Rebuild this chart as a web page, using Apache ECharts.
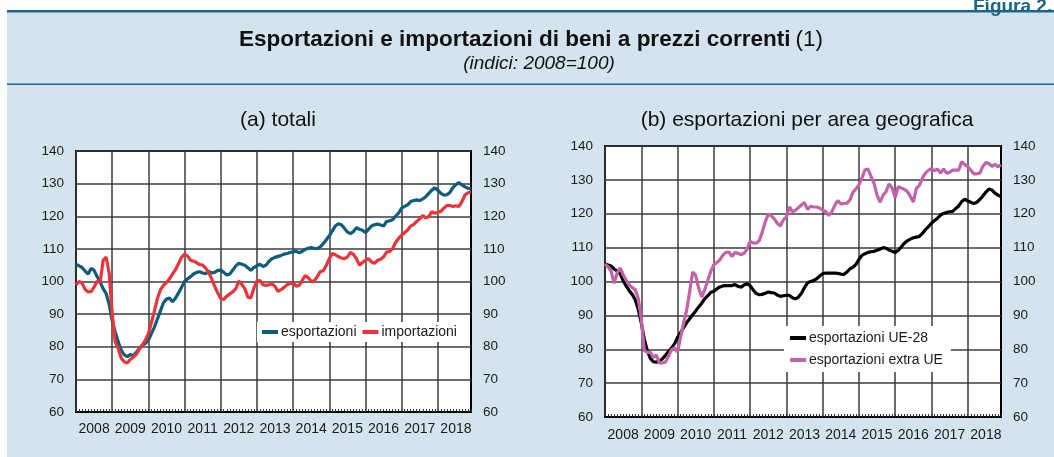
<!DOCTYPE html>
<html><head><meta charset="utf-8">
<script src="https://cdn.jsdelivr.net/npm/echarts@6/dist/echarts.min.js"></script>
<style>html,body{margin:0;padding:0;background:#fff}#c{width:1054px;height:457px}</style>
</head><body><div id="c"></div>
<script>
const years = ['2008','2009','2010','2011','2012','2013','2014','2015','2016','2017','2018'];
const yTicks = [60,70,80,90,100,110,120,130,140];

// (a) totali — monthly, Jan 2008 .. Dec 2018
const esportazioni = [
105.2,104.8,104.3,103.2,102.3,104.0,103.4,101.5,99.8,97.8,96.3,93.0,
88.0,84.5,81.5,79.0,77.5,77.0,77.6,77.3,78.3,79.5,80.5,81.0,
82.0,84.0,86.0,88.5,91.0,93.5,94.6,94.9,93.8,94.9,96.5,98.2,
100.0,100.8,101.5,102.3,102.8,103.0,102.6,102.4,103.1,102.6,102.8,103.4,
103.5,102.8,102.0,102.3,103.5,104.8,105.6,105.3,105.0,104.2,103.4,104.3,
104.8,105.3,104.6,105.0,106.2,107.0,107.4,107.7,108.0,108.4,108.6,108.9,
109.1,109.3,108.8,109.2,109.8,110.2,110.4,110.2,110.1,110.6,111.6,112.8,
114.0,115.5,117.0,117.7,117.4,116.3,115.2,114.7,115.3,116.5,116.0,115.7,
115.0,116.0,117.0,117.4,117.6,117.3,117.0,118.4,118.6,118.9,120.0,121.0,
122.5,123.0,123.5,124.5,124.8,125.0,124.8,125.3,126.0,127.0,128.0,128.7,
128.0,127.0,126.5,126.6,127.3,128.8,129.7,130.3,129.6,129.0,128.6,128.4];
const importazioni = [
99.0,100.0,99.5,97.6,96.8,96.9,98.3,100.1,99.7,106.5,107.5,102.5,
90.3,81.5,79.5,76.5,75.4,75.0,76.1,76.8,77.7,79.2,80.6,82.0,
84.0,87.3,91.0,94.8,97.4,98.8,99.7,100.8,102.3,103.6,105.5,107.4,
108.4,107.8,106.5,106.2,105.8,105.2,105.0,104.1,102.8,100.8,98.5,96.5,
94.8,94.5,95.5,96.2,96.8,97.8,100.1,99.1,97.8,95.2,95.0,98.0,
100.2,100.3,99.0,98.8,99.0,99.3,98.5,97.0,97.5,98.2,99.0,99.4,
99.5,98.6,98.8,100.3,101.8,101.2,100.1,100.1,101.5,103.0,103.3,104.9,
107.0,108.6,108.2,107.6,107.2,107.0,107.5,108.9,108.3,107.0,105.0,105.8,
106.5,107.0,106.0,105.6,106.5,106.8,107.5,109.0,109.2,110.1,112.0,113.2,
114.2,115.0,115.8,117.0,117.5,118.4,119.2,120.2,119.5,119.9,121.4,120.9,
121.2,121.5,122.5,123.3,123.3,123.0,123.2,123.0,124.5,126.5,127.2,127.4];

// (b) esportazioni per area geografica
const esportazioniUE28 = [
105.2,104.9,104.6,103.7,103.1,102.3,100.3,98.7,97.3,96.2,94.6,91.8,
87.8,83.0,79.6,77.3,76.3,76.2,76.5,77.2,78.2,79.3,80.4,81.6,
83.5,84.9,86.4,87.8,89.0,90.2,91.3,92.5,93.6,94.9,95.8,96.8,
97.1,97.8,98.4,98.7,98.8,98.8,98.8,99.1,98.6,98.3,99.0,99.3,
98.8,97.5,96.5,96.1,96.2,96.5,96.9,96.7,96.6,96.0,95.6,95.8,
95.9,95.9,95.2,94.9,95.4,96.5,98.2,99.6,100.0,100.3,100.8,101.6,
102.3,102.5,102.5,102.5,102.5,102.4,102.2,102.1,102.8,103.7,104.2,105.0,
106.5,107.7,108.2,108.6,108.8,108.9,109.2,109.6,110.0,109.8,109.3,108.9,
108.6,109.2,110.2,111.3,112.0,112.5,112.9,113.1,113.3,114.2,115.3,116.2,
117.2,118.0,118.7,119.6,120.1,120.4,120.6,120.7,121.5,122.3,123.6,124.3,
123.8,123.4,123.0,123.4,124.2,125.2,126.4,127.3,127.0,126.1,125.5,125.1];
const esportazioniExtraUE = [
105.2,104.3,103.2,99.5,102.5,104.0,102.0,100.4,99.0,98.2,97.6,95.0,
89.0,79.6,79.1,79.1,77.6,78.3,75.9,76.0,76.2,77.9,79.9,80.4,
79.2,83.5,87.8,91.5,97.0,102.8,101.8,98.0,95.4,97.6,100.3,103.0,
105.0,105.6,106.4,107.8,108.6,108.7,107.4,108.6,108.3,108.0,108.3,109.6,
111.8,111.4,111.3,112.0,114.5,117.6,119.9,119.4,118.5,117.2,116.4,118.2,
119.0,122.0,120.6,121.0,121.8,122.6,123.3,121.3,122.2,122.0,122.0,121.7,
121.0,120.7,119.5,120.5,122.5,123.9,122.9,123.0,123.1,124.0,126.3,127.3,
128.5,130.5,133.0,133.2,131.0,129.0,125.5,123.4,125.5,126.6,128.8,127.6,
124.8,128.0,127.6,127.2,126.6,125.2,123.5,127.5,128.4,130.5,132.0,132.8,
133.3,132.7,133.2,132.0,133.2,132.0,132.2,132.9,132.9,132.9,135.4,134.5,
133.9,132.9,131.8,131.8,132.0,134.0,135.1,134.8,134.0,134.6,133.9,134.4];

const months = [];
years.forEach(y => { for (let m = 1; m <= 12; m++) months.push(y + '-' + (m < 10 ? '0' + m : m)); });

const FONT = '"Liberation Sans", Arial, Helvetica, sans-serif';
const TXT = '#1a1a1a';
const C_EXP = '#0e5b7d', C_IMP = '#ec3339', C_UE = '#000000', C_EXTRA = '#c462a9';

function xAx(gi, margin) {
  return {
    type: 'category', gridIndex: gi, data: months, boundaryGap: false,
    axisLine: { show: true, lineStyle: { color: '#000', width: 2 } },
    axisTick: { show: true, inside: true, length: 3, interval: 0, lineStyle: { color: '#333', width: 1 } },
    axisLabel: { show: true, interval: (i) => i % 12 === 6, formatter: (v) => v.slice(0, 4),
      margin: margin, fontSize: 14, color: TXT, fontFamily: FONT },
    splitLine: { show: true, interval: (i) => i % 12 === 0, lineStyle: { color: '#3d3d3d', width: 1.5 } }
  };
}
function yAx(gi, pos, split) {
  return {
    type: 'value', gridIndex: gi, position: pos, min: yTicks[0], max: yTicks[yTicks.length - 1], interval: 10,
    axisLine: { show: false }, axisTick: { show: false },
    axisLabel: { show: true, margin: 12, fontSize: 13.5, color: TXT, fontFamily: FONT },
    splitLine: { show: split, lineStyle: { color: '#3d3d3d', width: 1.5 } }
  };
}
function line(name, data, color, xi, yi, z) {
  return { name: name, type: 'line', xAxisIndex: xi, yAxisIndex: yi, data: data, showSymbol: false,
    symbol: 'none', smooth: false, z: z, animation: false,
    lineStyle: { color: color, width: 3.2 }, itemStyle: { color: color } };
}

const chart = echarts.init(document.getElementById('c'), null, { renderer: 'canvas' });
chart.setOption({
  animation: false,
  backgroundColor: '#ffffff',
  graphic: [
    { type: 'rect', z: -10, shape: { x: 7, y: 11, width: 1054, height: 460 }, style: { fill: '#d3e4ee' } },
    { type: 'rect', z: -9, shape: { x: 7, y: 10, width: 1054, height: 2.5 }, style: { fill: '#1b6589' } },
    { type: 'rect', z: -9, shape: { x: 7, y: 83.5, width: 1054, height: 1.5 }, style: { fill: '#1b6589' } }
  ],
  title: [
    { text: 'Figura 2.', left: 968, top: -8, textStyle: { fontFamily: FONT, fontSize: 19, fontWeight: 'bold', color: '#1b6589' } },
    { text: '{b|Esportazioni e importazioni di beni a prezzi correnti} {n|(1)}', left: 526, textAlign: 'center', top: 23,
      textStyle: { rich: {
        b: { fontFamily: FONT, fontSize: 22.5, fontWeight: 'bold', color: '#111' },
        n: { fontFamily: FONT, fontSize: 22.5, fontWeight: 'normal', color: '#111' } } } },
    { text: '(indici: 2008=100)', left: 534, textAlign: 'center', top: 49,
      textStyle: { fontFamily: FONT, fontSize: 19, fontStyle: 'italic', fontWeight: 'normal', color: '#111' } },
    { text: '(a) totali', left: 273, textAlign: 'center', top: 105,
      textStyle: { fontFamily: FONT, fontSize: 21, fontWeight: 'normal', color: '#111' } },
    { text: '(b) esportazioni per area geografica', left: 802, textAlign: 'center', top: 105,
      textStyle: { fontFamily: FONT, fontSize: 21, fontWeight: 'normal', color: '#111' } }
  ],
  grid: [
    { left: 76, top: 151, width: 395, height: 261, show: true, backgroundColor: '#fff', borderColor: '#000', borderWidth: 2, containLabel: false },
    { left: 605, top: 146, width: 396, height: 271, show: true, backgroundColor: '#fff', borderColor: '#000', borderWidth: 2, containLabel: false }
  ],
  xAxis: [xAx(0, 10), xAx(1, 11)],
  yAxis: [yAx(0, 'left', true), yAx(0, 'right', false), yAx(1, 'left', true), yAx(1, 'right', false)],
  legend: [
    { data: ['esportazioni', 'importazioni'], left: 257, top: 322, orient: 'horizontal', icon: 'rect',
      itemWidth: 16, itemHeight: 4, itemGap: 6, padding: [3, 5, 3, 5], backgroundColor: '#fff',
      textStyle: { fontFamily: FONT, fontSize: 14, color: TXT, padding: [0, 0, 0, -2] } },
    { data: ['esportazioni UE-28', 'esportazioni extra UE'], left: 784, top: 326, orient: 'vertical', icon: 'rect',
      itemWidth: 16, itemHeight: 4, itemGap: 8, padding: [5, 8, 5, 6], backgroundColor: '#fff',
      textStyle: { fontFamily: FONT, fontSize: 14, color: TXT, padding: [0, 0, 0, -2] } }
  ],
  series: [
    line('esportazioni', esportazioni, C_EXP, 0, 0, 3),
    line('importazioni', importazioni, C_IMP, 0, 0, 4),
    line('esportazioni UE-28', esportazioniUE28, C_UE, 1, 2, 3),
    line('esportazioni extra UE', esportazioniExtraUE, C_EXTRA, 1, 2, 4)
  ]
});
</script></body></html>
